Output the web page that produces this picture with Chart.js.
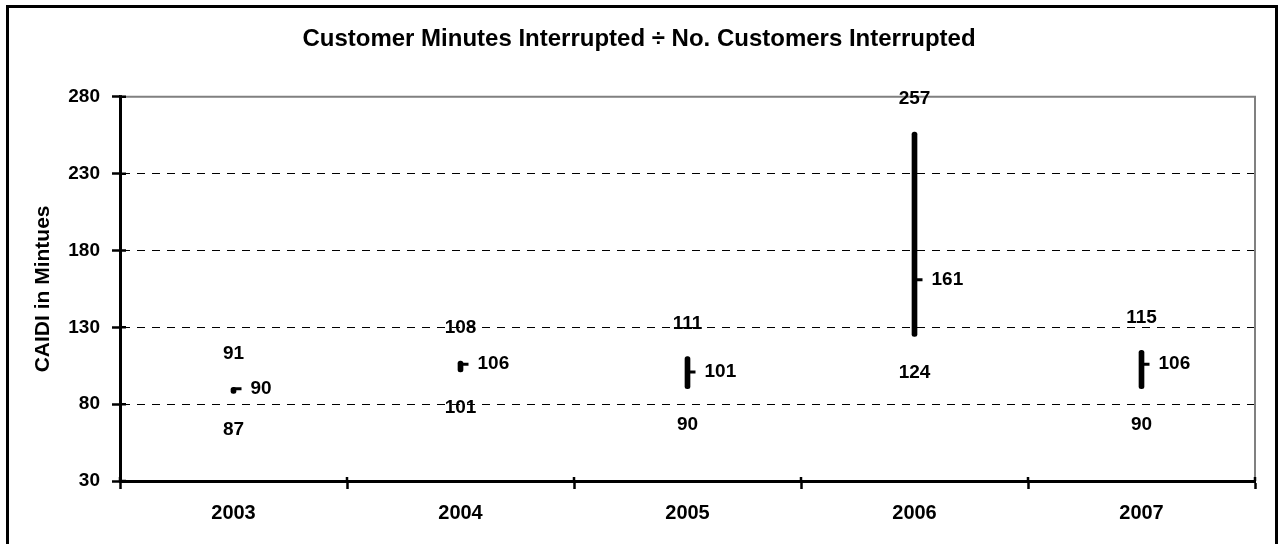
<!DOCTYPE html>
<html>
<head>
<meta charset="utf-8">
<script src="https://cdn.jsdelivr.net/npm/chart.js@4.4.0/dist/chart.umd.min.js"></script>
<style>
  html, body { margin: 0; padding: 0; background: #fff; }
  #wrap { width: 1280px; height: 544px; position: relative; }
</style>
</head>
<body>
<div id="wrap"><canvas id="c" width="1280" height="544"></canvas></div>
<script>
const categories = ['2003', '2004', '2005', '2006', '2007'];
const highValues = [91, 108, 111, 257, 115];
const lowValues = [87, 101, 90, 124, 90];
const closeValues = [90, 106, 101, 161, 106];
const yTicks = [30, 80, 130, 180, 230, 280];

const FONT = '"Liberation Sans", Arial, Helvetica, sans-serif';

const framePlugin = {
  id: 'frame',
  beforeDraw(chart) {
    const ctx = chart.ctx;
    ctx.save();
    ctx.fillStyle = '#ffffff';
    ctx.fillRect(0, 0, chart.width, chart.height);
    ctx.lineWidth = 3;
    ctx.strokeStyle = '#000000';
    ctx.strokeRect(7.5, 6.5, 1269, 620);
    ctx.restore();
  },
  beforeDatasetsDraw(chart) {
    const ctx = chart.ctx;
    const a = chart.chartArea;
    const xs = chart.scales.x, ys = chart.scales.y;
    ctx.save();
    // grey top and right plot border
    ctx.strokeStyle = '#808080';
    ctx.lineWidth = 2;
    ctx.beginPath();
    ctx.moveTo(a.left, a.top);
    ctx.lineTo(a.right, a.top);
    ctx.lineTo(a.right, a.bottom);
    ctx.stroke();
    // inward parts of tick marks
    ctx.strokeStyle = '#000000';
    ctx.lineWidth = 2.5;
    ctx.beginPath();
    for (let i = 0; i <= categories.length; i++) {
      const px = xs.getPixelForValue(i - 0.5);
      ctx.moveTo(px, a.bottom);
      ctx.lineTo(px, a.bottom - 4);
    }
    yTicks.forEach(v => {
      const py = ys.getPixelForValue(v);
      ctx.moveTo(a.left, py);
      ctx.lineTo(a.left + 6, py);
    });
    ctx.stroke();
    ctx.restore();
  },
  afterDatasetsDraw(chart) {
    const ctx = chart.ctx;
    const xs = chart.scales.x, ys = chart.scales.y;
    ctx.save();
    ctx.fillStyle = '#000000';
    ctx.font = 'bold 19px ' + FONT;
    ctx.textBaseline = 'middle';
    categories.forEach((c, i) => {
      const x = xs.getPixelForValue(i);
      ctx.textAlign = 'center';
      ctx.fillText(String(highValues[i]), x, ys.getPixelForValue(highValues[i]) - 33);
      ctx.fillText(String(lowValues[i]), x, ys.getPixelForValue(lowValues[i]) + 36);
      ctx.textAlign = 'left';
      ctx.fillText(String(closeValues[i]), x + 17, ys.getPixelForValue(closeValues[i]));
    });
    ctx.restore();
  }
};

new Chart(document.getElementById('c'), {
  type: 'bar',
  data: {
    labels: categories,
    datasets: [
      {
        label: 'High-Low',
        data: categories.map((c, i) => [lowValues[i], highValues[i]]),
        backgroundColor: '#000000',
        borderWidth: 0,
        barThickness: 5,
        borderRadius: 2.5,
        borderSkipped: false,
        order: 2
      },
      {
        type: 'line',
        label: 'Close',
        data: closeValues,
        showLine: false,
        pointStyle: 'dash',
        pointRadius: 8,
        pointBorderWidth: 3,
        borderColor: '#000000',
        backgroundColor: '#000000',
        order: 1
      }
    ]
  },
  options: {
    responsive: false,
    animation: false,
    layout: { padding: { left: 23, right: 25, top: 0, bottom: 0 } },
    plugins: {
      legend: { display: false },
      tooltip: { enabled: false },
      title: {
        display: true,
        text: 'Customer Minutes Interrupted ÷ No. Customers Interrupted',
        color: '#000000',
        font: { family: FONT, size: 24, weight: 'bold' },
        padding: { top: 25, bottom: 43 }
      }
    },
    scales: {
      x: {
        afterFit(scale) { scale.height = 63; },
        grid: {
          drawOnChartArea: false,
          drawTicks: true,
          tickLength: 8,
          tickColor: '#000000',
          tickWidth: 2.5,
          offset: true
        },
        border: { display: true, color: '#000000', width: 3 },
        ticks: {
          color: '#000000',
          padding: 12,
          font: { family: FONT, size: 20, weight: 'bold' }
        }
      },
      y: {
        min: 30,
        max: 280,
        afterFit(scale) { scale.width = 97; },
        afterBuildTicks(scale) { scale.ticks = yTicks.map(v => ({ value: v })); },
        grid: {
          color: ctx => (ctx.tick && ctx.tick.value > 30 && ctx.tick.value < 280) ? '#000000' : 'rgba(0,0,0,0)',
          lineWidth: 1,
          tickLength: 8,
          tickColor: '#000000',
          tickWidth: 2.5
        },
        border: { display: true, color: '#000000', width: 3, dash: [8, 7] },
        title: {
          display: true,
          text: 'CAIDI in Mintues',
          color: '#000000',
          font: { family: FONT, size: 21, weight: 'bold' },
          padding: { top: 8, bottom: 0 }
        },
        ticks: {
          color: '#000000',
          padding: 12,
          font: { family: FONT, size: 19, weight: 'bold' }
        }
      }
    }
  },
  plugins: [framePlugin]
});
</script>
</body>
</html>
